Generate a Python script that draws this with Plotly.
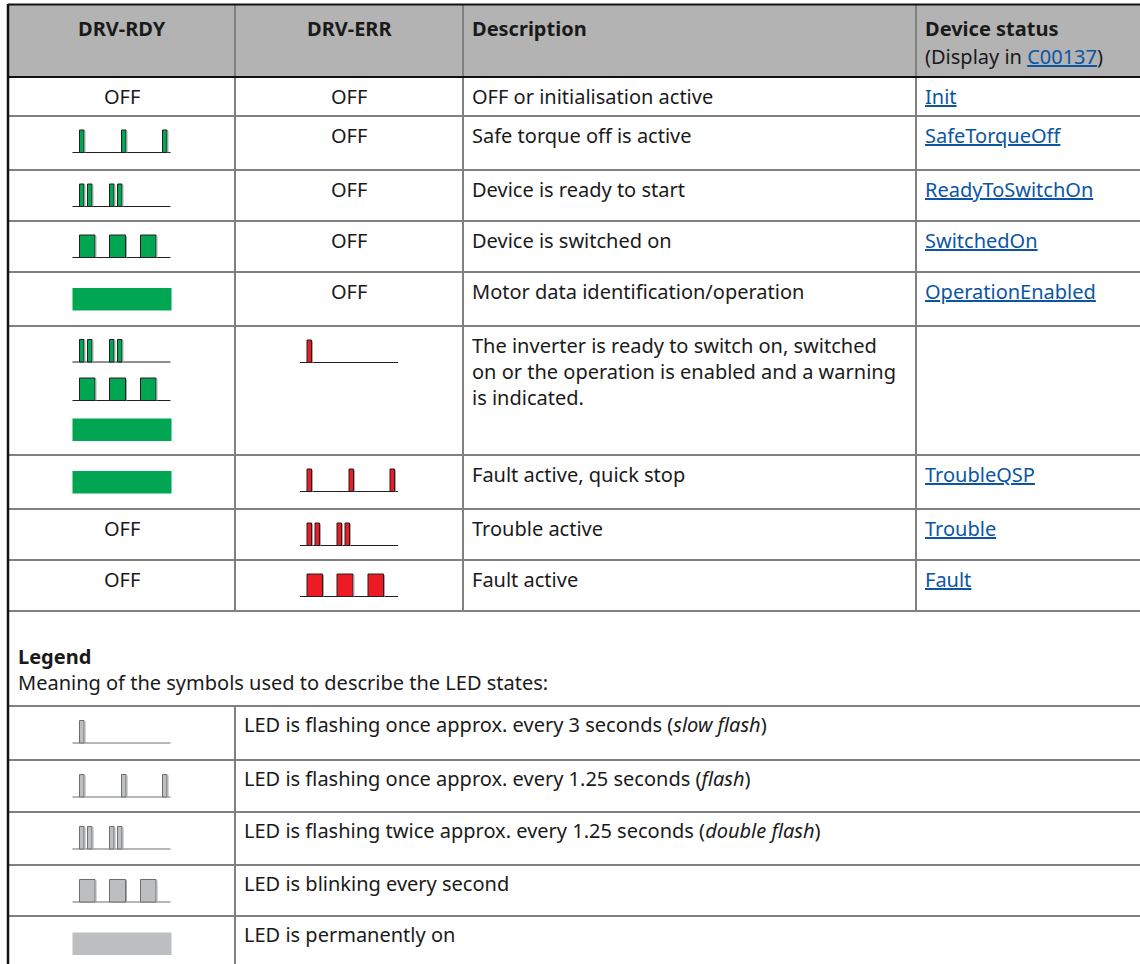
import plotly.graph_objects as go

# ---------------- data ----------------
columns = ["DRV-RDY", "DRV-ERR", "Description", "Device status"]
status_sub = ["(Display in ", "C00137", ")"]

rdy_states = ["OFF", "flash", "double", "blink", "on",
              ["double", "blink", "on"], "on", "OFF", "OFF"]
err_states = ["OFF", "OFF", "OFF", "OFF", "OFF", "slow", "flash", "double", "blink"]
descriptions = [
    ["OFF or initialisation active"],
    ["Safe torque off is active"],
    ["Device is ready to start"],
    ["Device is switched on"],
    ["Motor data identification/operation"],
    ["The inverter is ready to switch on, switched",
     "on or the operation is enabled and a warning",
     "is indicated."],
    ["Fault active, quick stop"],
    ["Trouble active"],
    ["Fault active"],
]
statuses = ["Init", "SafeTorqueOff", "ReadyToSwitchOn", "SwitchedOn",
            "OperationEnabled", "", "TroubleQSP", "Trouble", "Fault"]

legend_title = "Legend"
legend_intro = "Meaning of the symbols used to describe the LED states:"
legend_symbols = ["slow", "flash", "double", "blink", "on"]
legend_texts = [
    "LED is flashing once approx. every 3 seconds (<i>slow flash</i>)",
    "LED is flashing once approx. every 1.25 seconds (<i>flash</i>)",
    "LED is flashing twice approx. every 1.25 seconds (<i>double flash</i>)",
    "LED is blinking every second",
    "LED is permanently on",
]

# pulse timing of each LED pattern (start, end) within one symbol period of 98 units
pulse_patterns = {
    "slow": [(7, 11.5)],
    "flash": [(7, 11.5), (49, 53.5), (90, 94.5)],
    "double": [(7, 11.5), (15, 19.5), (37, 41.5), (45, 49.5)],
    "blink": [(7, 22.5), (37, 53), (68, 83.5)],
}

# ---------------- layout constants ----------------
W, H = 1140, 964
col_x = [8, 235, 463, 916, 1140]
header_top, header_bot = 4, 77
row_bounds = [77, 116, 170, 221, 272, 326, 455, 509, 560, 611]
legend_block = (611, 706)
legend_bounds = [706, 760, 812, 865, 916, 964]

FONT = "Noto Sans"
FS = 20
LINE_H = 1.3 * FS
TXT = "#1a1a1a"
LINK = "#0b55a3"
GRID = "#808080"
HEAD_BG = "#b3b3b3"
GREEN = "#00a651"
RED = "#ed1c24"
GRAY_LED = "#bcbec0"
SYM_W = 98
SYM_H = 22.5

fig = go.Figure()
shapes = []
annotations = []


def add_text(x, y, text, anchor="left", bold=False, color=TXT, size=FS):
    if bold:
        text = "<b>" + text + "</b>"
    annotations.append(dict(x=x, y=y, xref="x", yref="y", text=text, showarrow=False,
                            xanchor=anchor, yanchor="middle", align=anchor,
                            borderpad=0,
                            font=dict(family=FONT, size=size, color=color)))


def add_symbol(kind, cx, top, fill, edge):
    x0 = cx - SYM_W / 2
    if kind == "on":
        fig.add_trace(go.Scatter(
            x=[x0, x0 + SYM_W + 1, x0 + SYM_W + 1, x0, x0],
            y=[top + 2, top + 2, top + 2 + SYM_H, top + 2 + SYM_H, top + 2],
            mode="lines", fill="toself", fillcolor=fill, line=dict(width=0),
            hoverinfo="skip", showlegend=False))
        return
    base = top + SYM_H
    fig.add_trace(go.Scatter(x=[x0, x0 + SYM_W], y=[base, base], mode="lines",
                             line=dict(color=edge, width=1.2), hoverinfo="skip",
                             showlegend=False))
    for (a, b) in pulse_patterns[kind]:
        xa, xb = x0 + a, x0 + b
        fig.add_trace(go.Scatter(
            x=[xa, xa, xb, xb, xa], y=[base, top, top, base, base],
            mode="lines", fill="toself", fillcolor=fill,
            line=dict(color=edge, width=1), hoverinfo="skip", showlegend=False))
        fig.add_trace(go.Scatter(x=[xb + 1, xb + 1], y=[top + 1, base], mode="lines",
                                 line=dict(color="#a7a9ac", width=1), hoverinfo="skip",
                                 showlegend=False))


# header background
shapes.append(dict(type="rect", xref="x", yref="y", x0=col_x[0], x1=col_x[-1],
                   y0=header_top, y1=header_bot, fillcolor=HEAD_BG, line=dict(width=0),
                   layer="below"))

hy = header_top + 24
add_text((col_x[0] + col_x[1]) / 2, hy, columns[0], "center", bold=True)
add_text((col_x[1] + col_x[2]) / 2, hy, columns[1], "center", bold=True)
add_text(col_x[2] + 8, hy, columns[2], bold=True)
add_text(col_x[3] + 8, hy, columns[3], bold=True)
add_text(col_x[3] + 8, hy + 28,
         status_sub[0] + "<span style='color:%s'><u>%s</u></span>" % (LINK, status_sub[1])
         + status_sub[2])

c1 = (col_x[0] + col_x[1]) / 2
c2 = (col_x[1] + col_x[2]) / 2
for i in range(len(descriptions)):
    top = row_bounds[i]
    ty = top + 19
    st = rdy_states[i]
    if st == "OFF":
        add_text(c1, ty, "OFF", "center")
    elif isinstance(st, list):
        for k, s in enumerate(st):
            add_symbol(s, c1, top + 13.5 + k * 38.5, GREEN, "#231f20")
    else:
        add_symbol(st, c1, top + 14, GREEN, "#231f20")
    st = err_states[i]
    if st == "OFF":
        add_text(c2, ty, "OFF", "center")
    else:
        add_symbol(st, c2, top + 14, RED, "#231f20")
    lines = descriptions[i]
    add_text(col_x[2] + 8, ty + (len(lines) - 1) * LINE_H / 2, "<br>".join(lines))
    if statuses[i]:
        add_text(col_x[3] + 8, ty,
                 "<span style='color:%s'><u>%s</u></span>" % (LINK, statuses[i]))

add_text(col_x[0] + 9, legend_block[0] + 45 + LINE_H / 2,
         "<b>" + legend_title + "</b><br>" + legend_intro)

for i, (sym, txt) in enumerate(zip(legend_symbols, legend_texts)):
    top = legend_bounds[i]
    add_symbol(sym, c1, top + 14.5, GRAY_LED, "#6d6e71")
    add_text(col_x[1] + 8, top + 18, txt)


def hline(y, x0, x1, color, w):
    shapes.append(dict(type="line", xref="x", yref="y", x0=x0, x1=x1, y0=y, y1=y,
                       line=dict(color=color, width=w)))


def vline(x, y0, y1, color, w):
    shapes.append(dict(type="line", xref="x", yref="y", x0=x, x1=x, y0=y0, y1=y1,
                       line=dict(color=color, width=w)))


for y in row_bounds[1:] + legend_bounds[:-1]:
    hline(y, col_x[0], col_x[-1], GRID, 2)
for x in col_x[1:4]:
    vline(x, header_top, row_bounds[-1], GRID, 2)
vline(col_x[1], legend_bounds[0], H, GRID, 2)
hline(header_bot, col_x[0], col_x[-1], "#111111", 2.2)
hline(header_top + 0.5, col_x[0], col_x[-1], "#111111", 1.8)
vline(col_x[0], header_top, H, "#111111", 2.5)

fig.update_layout(
    width=W, height=H, margin=dict(l=0, r=0, t=0, b=0),
    paper_bgcolor="white", plot_bgcolor="white",
    xaxis=dict(range=[0, W], visible=False, fixedrange=True),
    yaxis=dict(range=[H, 0], visible=False, fixedrange=True),
    shapes=shapes, annotations=annotations, showlegend=False,
)

fig.write_html("out.html", config={"displayModeBar": False},
               post_script="document.body.style.margin='0';document.body.style.overflow='hidden';")
